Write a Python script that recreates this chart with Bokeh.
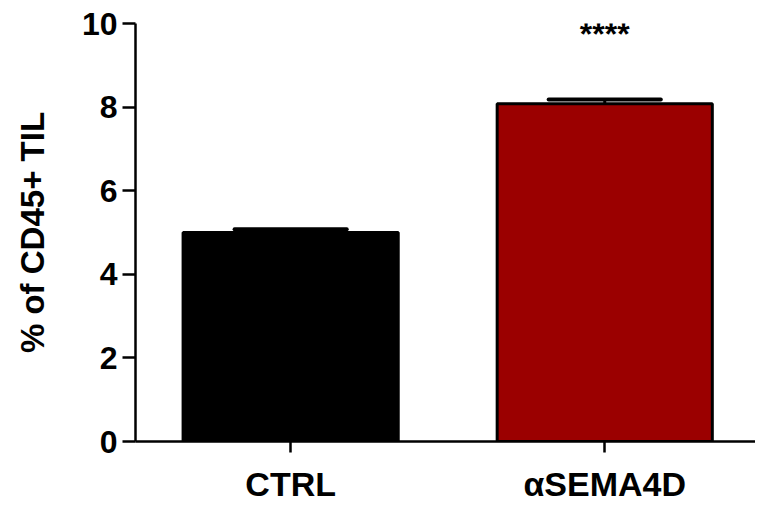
from bokeh.plotting import figure
from bokeh.models import FixedTicker, Range1d, ColumnDataSource
from bokeh.core.properties import value
from bokeh.embed import file_html
from bokeh.resources import INLINE

categories = ["CTRL", "αSEMA4D"]
means = [5.0, 8.08]
sems = [0.08, 0.1]
colors = ["#000000", "#9B0000"]
y_ticks = [0, 2, 4, 6, 8, 10]
significance = ["", "****"]

xs = [i + 1 for i in range(len(categories))]
bar_w = 0.685
cap_w = 0.357

src = ColumnDataSource(dict(
    x=xs, top=means, color=colors,
    err=[m + s for m, s in zip(means, sems)],
    x0=[x - cap_w / 2 for x in xs], x1=[x + cap_w / 2 for x in xs],
    star=significance, star_y=[9.74] * len(xs),
))

p = figure(width=755, height=508, output_backend="svg", toolbar_location=None,
           x_range=Range1d(0.506, 2.48), y_range=Range1d(0, 10),
           min_border_left=135, min_border_top=23, min_border_bottom=67,
           min_border_right=0)
p.outline_line_color = None
p.xgrid.visible = False
p.ygrid.visible = False

p.vbar(x="x", top="top", width=bar_w, bottom=0, source=src,
       fill_color="color", line_color="black", line_width=3)
p.segment(x0="x0", y0="err", x1="x1", y1="err", source=src,
          line_color="black", line_width=4, line_cap="round")
p.segment(x0="x", y0="top", x1="x", y1="err", source=src,
          line_color="black", line_width=3)
p.text(x="x", y="star_y", text="star", source=src, text_align="center",
       text_baseline="alphabetic", text_font=value("Liberation Sans"),
       text_font_style="bold", text_font_size="32px", text_color="black")

font = "Liberation Sans"
p.yaxis.ticker = FixedTicker(ticks=y_ticks)
p.yaxis.axis_label = "% of CD45+ TIL"
p.yaxis.axis_label_text_font = font
p.yaxis.axis_label_text_font_style = "bold"
p.yaxis.axis_label_text_font_size = "33px"
p.yaxis.axis_label_text_color = "black"
p.yaxis.axis_label_standoff = 28
p.yaxis.major_label_text_font = font
p.yaxis.major_label_text_font_style = "bold"
p.yaxis.major_label_text_font_size = "32px"
p.yaxis.major_label_text_color = "black"
p.yaxis.major_label_standoff = 5
p.yaxis.major_tick_out = 13
p.yaxis.major_tick_in = 0
p.yaxis.minor_tick_out = 0
p.yaxis.minor_tick_in = 0
p.yaxis.axis_line_width = 2.5
p.yaxis.axis_line_color = "black"
p.yaxis.major_tick_line_width = 2.5
p.yaxis.major_tick_line_color = "black"

p.xaxis.ticker = FixedTicker(ticks=xs)
p.xaxis.major_label_overrides = {x: c for x, c in zip(xs, categories)}
p.xaxis.major_label_text_font = font
p.xaxis.major_label_text_font_style = "bold"
p.xaxis.major_label_text_font_size = "34px"
p.xaxis.major_label_text_color = "black"
p.xaxis.major_label_standoff = 12
p.xaxis.major_tick_out = 11
p.xaxis.major_tick_in = 0
p.xaxis.minor_tick_out = 0
p.xaxis.minor_tick_in = 0
p.xaxis.axis_line_width = 2.5
p.xaxis.axis_line_color = "black"
p.xaxis.major_tick_line_width = 2.5
p.xaxis.major_tick_line_color = "black"

open("out.html", "w").write(file_html(p, INLINE))
